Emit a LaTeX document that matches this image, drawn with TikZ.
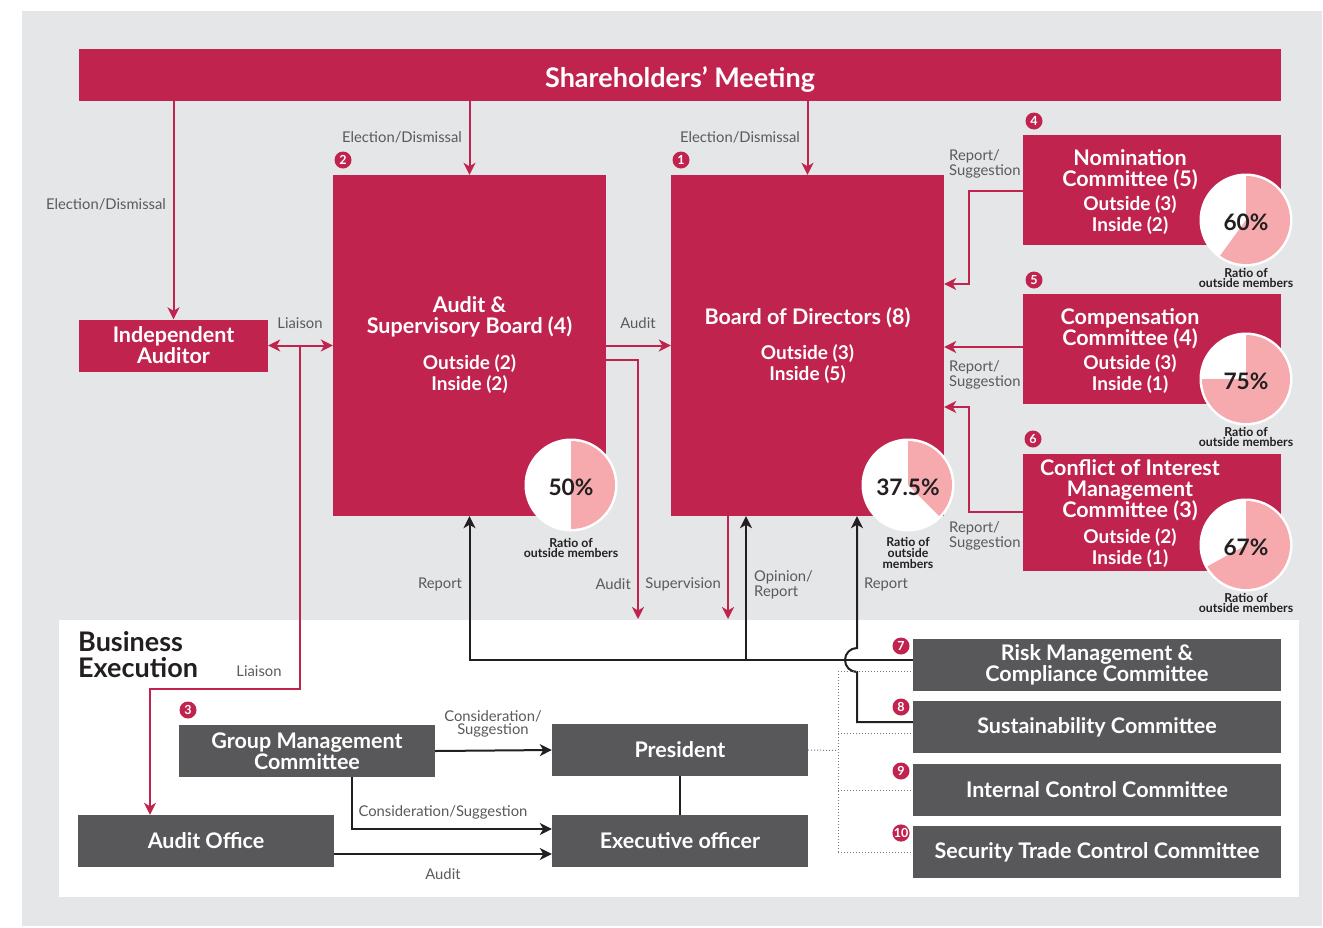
\documentclass[tikz,border=0pt]{standalone}
\usepackage{fontspec}
\setmainfont{Lato}
\usetikzlibrary{arrows.meta}
\definecolor{corpred}{RGB}{192,35,78}
\definecolor{corpgray}{RGB}{88,88,90}
\definecolor{corppink}{RGB}{246,170,174}
\definecolor{corpbg}{RGB}{229,230,232}
\definecolor{lbltext}{RGB}{90,90,92}
\definecolor{darktext}{RGB}{35,31,32}
\definecolor{dotgray}{RGB}{120,120,120}

\tikzset{
  redbox/.style={fill=corpred, text=white, inner sep=0pt, align=center,
    font=\fontsize{21.5}{21}\selectfont\bfseries},
  graybox/.style={fill=corpgray, text=white, inner sep=0pt, align=center,
    minimum width=256pt, minimum height=52pt, font=\fontsize{21.5}{21}\selectfont\bfseries},
  cmtext/.style={text=white, inner sep=0pt, align=center, font=\fontsize{21.5}{21}\selectfont\bfseries},
  lbl/.style={text=lbltext, inner sep=0pt, align=center, font=\fontsize{14.8}{15}\selectfont},
  numc/.style={circle, fill=corpred, text=white, minimum size=17pt, inner sep=0pt,
    font=\fontsize{12.5}{12}\selectfont\bfseries},
  pcttext/.style={text=darktext, inner sep=0pt, font=\fontsize{22.7}{22}\selectfont\bfseries},
  ratio/.style={text=darktext, inner sep=0pt, align=center, font=\fontsize{12.3}{10.8}\selectfont\bfseries},
  redarr/.style={draw=corpred, line width=2pt, -{Stealth[length=12pt,width=12pt,inset=3.5pt]}},
  reddbl/.style={draw=corpred, line width=2pt,
    {Stealth[length=12pt,width=12pt,inset=3.5pt]}-{Stealth[length=12pt,width=12pt,inset=3.5pt]}},
  blkarr/.style={draw=darktext, line width=2pt, -{Stealth[length=12pt,width=12pt,inset=3.5pt]}},
  blkline/.style={draw=darktext, line width=2pt},
  dotline/.style={draw=dotgray, line width=1pt, dotted}
}

\begin{document}
\begin{tikzpicture}[x=1pt, y=-1pt]
  \useasboundingbox (0,0) rectangle (1323,927);
  % Background panels
  \fill[corpbg] (22,11) rectangle (1322,926);
  \fill[white] (59,620) rectangle (1299,897);

  % Governance boxes
  \node[redbox, minimum width=1202pt, minimum height=52pt, text height=24pt, text depth=0pt,
    font=\fontsize{27}{27}\selectfont\bfseries] (share) at (680,75) {Shareholders’ Meeting};
  \node[redbox, minimum width=189pt, minimum height=52pt] (iaud) at (173.5,345.5) {Independent\\Auditor};
  \node[redbox, minimum width=273pt, minimum height=341pt] (asb) at (469.5,345.5)
    {Audit \&\\Supervisory Board (4)\\[15pt]\fontsize{19}{21}\selectfont Outside (2)\\\fontsize{19}{21}\selectfont Inside (2)};
  \node[redbox, minimum width=273pt, minimum height=341pt] (bod) at (807.5,345.5)
    {Board of Directors (8)\\[14pt]\fontsize{19}{21}\selectfont Outside (3)\\\fontsize{19}{21}\selectfont Inside (5)};

  % Committees under the board
  \node[redbox, minimum width=258pt, minimum height=110pt] (nom) at (1152,190) {};
  \node[redbox, minimum width=258pt, minimum height=110pt] (com) at (1152,349) {};
  \node[redbox, minimum width=258pt, minimum height=117pt] (coi) at (1152,512) {};
  \node[cmtext] (nomt) at (1130,192)
    {Nomination\\Committee (5)\\[3pt]\fontsize{19}{21}\selectfont Outside (3)\\\fontsize{19}{21}\selectfont Inside (2)};
  \node[cmtext] (comt) at (1130,351)
    {Compensation\\Committee (4)\\[3pt]\fontsize{19}{21}\selectfont Outside (3)\\\fontsize{19}{21}\selectfont Inside (1)};
  \node[cmtext] (coit) at (1130,514)
    {Conflict of Interest\\Management\\Committee (3)\\[5pt]\fontsize{19}{21}\selectfont Outside (2)\\\fontsize{19}{21}\selectfont Inside (1)};

  % Business execution
  \node[anchor=north west, inner sep=0pt, align=left, text=darktext,
    font=\fontsize{27}{26}\selectfont\bfseries] (bexec) at (78,631) {Business\\Execution};
  \node[graybox] (gmc) at (307,751) {Group Management\\Committee};
  \node[graybox] (pres) at (680,750) {President};
  \node[graybox] (aoff) at (206,841) {Audit Office};
  \node[graybox] (eo) at (680,841) {Executive officer};
  \node[graybox, minimum width=368pt] (rmc) at (1097,665) {Risk Management \&\\Compliance Committee};
  \node[graybox, minimum width=368pt] (sus) at (1097,727) {Sustainability Committee};
  \node[graybox, minimum width=368pt] (icc) at (1097,789.5) {Internal Control Committee};
  \node[graybox, minimum width=368pt] (stc) at (1097,852) {Security Trade Control Committee};

  % Red connectors
  \draw[redarr] (share.south -| iaud) -- (iaud.north);
  \draw[redarr] (share.south -| asb) -- (asb.north);
  \draw[redarr] (share.south -| bod) -- (bod.north);
  \draw[reddbl] (iaud.east) -- (iaud.east -| asb.west);
  \coordinate (lzb) at (150,689);
  \draw[redarr] (300,345.5) |- (lzb) -- (aoff.north -| lzb);
  \draw[redarr] (asb.east) -- (bod.west);
  \coordinate (auddn) at (638,619);
  \coordinate (supdn) at (728,619);
  \draw[redarr] (asb.east |- 0,360) -| (auddn);
  \draw[redarr] (bod.south -| supdn) -- (supdn);
  \draw[redarr] (nom.west |- 0,191) -- (969,191) |- (bod.east |- 0,284);
  \draw[redarr] (com.west |- 0,347) -- (bod.east |- 0,347);
  \draw[redarr] (coi.west |- 0,512) -- (969,512) |- (bod.east |- 0,407);

  % Black connectors
  \draw[blkarr] (rmc.west |- 0,660) -| (asb.south);
  \draw[blkarr] (746,660) -- (bod.south -| 746,0);
  \draw[blkarr] (sus.west |- 0,722) -- (857,722) -- (857,672)
    arc[start angle=90, end angle=270, radius=12] -- (bod.south -| 857,0);
  \draw[blkarr] (gmc.east) -- (pres.west);
  \draw[blkarr] (gmc.south -| 352,0) |- (eo.west |- 0,829);
  \draw[blkarr] (aoff.east |- 0,854) -- (eo.west |- 0,854);
  \draw[blkline] (pres.south) -- (eo.north);

  % Dotted links to the committees
  \draw[dotline] (pres.east) -- (838,750.5);
  \draw[dotline] (838,671) -- (838,852);
  \foreach \bx/\yy in {rmc/671, sus/733, icc/790, stc/852}
    \draw[dotline] (838,\yy) -- (\bx.west |- 0,\yy);

  % Ratio pies
  \foreach \nm/\cx/\cy/\ang/\val in {pasb/571/485/180/50, pbod/908/485/135/37.5,
      pnom/1246/220/216/60, pcom/1246/379/270/75, pcoi/1246/545/241/67}{
    \fill[white] (\cx,\cy) circle (46.5);
    \fill[corppink] (\cx,\cy) -- ++(-90:44) arc[start angle=-90, delta angle=\ang, radius=44] -- cycle;
    \node[pcttext] (\nm) at (\cx,\cy+2) {\val\%};
  }
  \node[ratio] (rasb) at (571,548) {Ratio of\\outside members};
  \node[ratio] (rbod) at (908,553) {Ratio of\\outside\\members};
  \node[ratio] (rnom) at (1246,278) {Ratio of\\outside members};
  \node[ratio] (rcom) at (1246,437) {Ratio of\\outside members};
  \node[ratio] (rcoi) at (1246,603) {Ratio of\\outside members};

  % Numbers
  \foreach \n/\xx/\yy in {1/681/160, 2/343/160, 3/188/710, 4/1034/121, 5/1034/280,
      6/1033/439, 7/901/646, 8/901/707, 9/901/771, 10/901/833}
    \node[numc] (no\n) at (\xx,\yy) {\n};

  % Connector labels
  \node[lbl] (elA) at (106,204) {Election/Dismissal};
  \node[lbl] (elB) at (402,137) {Election/Dismissal};
  \node[lbl] (elC) at (740,137) {Election/Dismissal};
  \node[lbl] (liA) at (300,323) {Liaison};
  \node[lbl] (liB) at (259,671) {Liaison};
  \node[lbl] (auA) at (638,323) {Audit};
  \node[lbl, align=left, anchor=west] (rsA) at (949,164) {Report/\\Suggestion};
  \node[lbl, align=left, anchor=west] (rsB) at (949,375) {Report/\\Suggestion};
  \node[lbl, align=left, anchor=west] (rsC) at (949,536) {Report/\\Suggestion};
  \node[lbl] (rpA) at (440,584) {Report};
  \node[lbl, anchor=east] (auB) at (631,584) {Audit};
  \node[lbl, anchor=east] (sup) at (721,584) {Supervision};
  \node[lbl, align=left, anchor=west] (opr) at (754,585) {Opinion/\\Report};
  \node[lbl] (rpB) at (886,584) {Report};
  \node[lbl, font=\fontsize{14.8}{13.5}\selectfont] (csA) at (493,724) {Consideration/\\Suggestion};
  \node[lbl] (csB) at (443,812) {Consideration/Suggestion};
  \node[lbl] (auC) at (443,874) {Audit};
\end{tikzpicture}
\end{document}
